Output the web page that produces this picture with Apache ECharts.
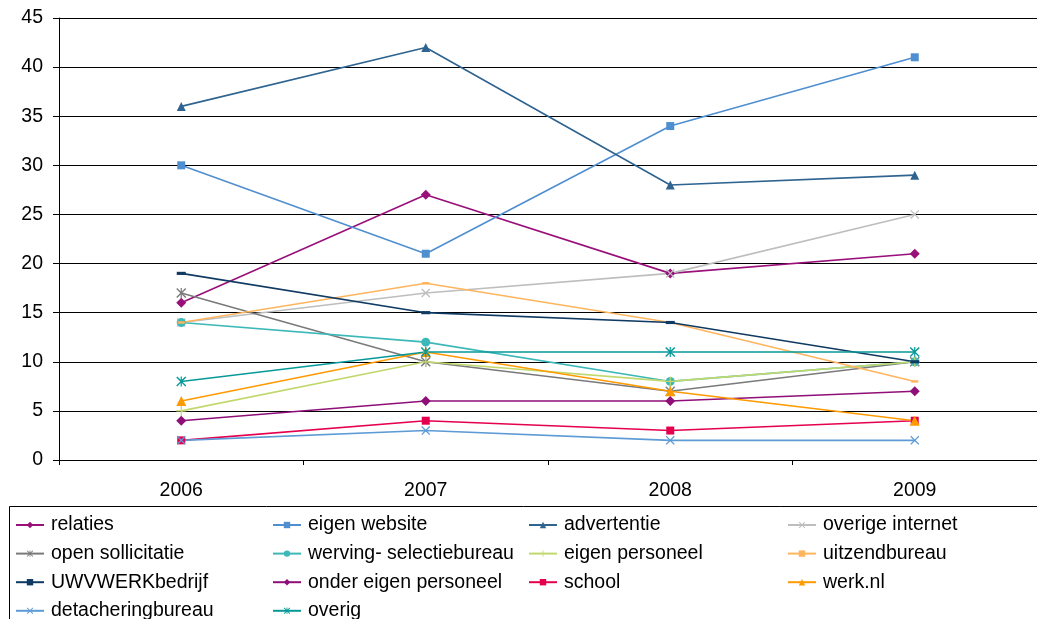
<!DOCTYPE html>
<html><head><meta charset="utf-8">
<script src="https://cdn.jsdelivr.net/npm/echarts@6/dist/echarts.min.js"></script>
<style>html,body{margin:0;padding:0;background:#fff}#c{width:1037px;height:619px}</style>
</head><body><div id="c"></div>
<script>
const years = ['2006','2007','2008','2009'];
const relaties = [16,27,19,21];
const eigenWebsite = [30,21,34,41];
const advertentie = [36,42,28,29];
const overigeInternet = [14,17,19,25];
const openSollicitatie = [17,10,7,10];
const werving = [14,12,8,10];
const eigenPersoneel = [5,10,8,10];
const uitzendbureau = [14,18,14,8];
const uwv = [19,15,14,10];
const onderEigenPersoneel = [4,6,6,7];
const school = [2,4,3,4];
const werkNl = [6,11,7,4];
const detachering = [2,3,2,2];
const overig = [8,11,11,11];

const X = 'path://M0,1L1,0L5,4L9,0L10,1L6,5L10,9L9,10L5,6L1,10L0,9L4,5Z';
const AST = 'path://M0,1L1,0L4.4,3.4V0H5.6V3.4L9,0L10,1L6,5L10,9L9,10L5.6,6.6V10H4.4V6.6L1,10L0,9L4,5Z';
const PLUS = 'path://M4.4,0H5.6V4.4H10V5.6H5.6V10H4.4V5.6H0V4.4H4.4Z';
const DASH = 'path://M0,0H10V3.5H0Z';

function s(name, data, color, symbol, size) {
  return {name, type:'line', data, symbol, symbolSize:size, showSymbol:true,
    symbolKeepAspect:true,
    lineStyle:{color, width:1.6}, itemStyle:{color}, emphasis:{disabled:true}, animation:false, z:2};
}
const series = [
  s('relaties', relaties, '#99107A', 'diamond', 10),
  s('eigen website', eigenWebsite, '#4F8FD0', 'rect', 8),
  s('advertentie', advertentie, '#2F6490', 'triangle', 9),
  s('overige internet', overigeInternet, '#BEBEBE', X, 9),
  s('open sollicitatie', openSollicitatie, '#7A7A7A', AST, 10),
  s('werving- selectiebureau', werving, '#3DB8B8', 'circle', 9),
  s('eigen personeel', eigenPersoneel, '#C2D86E', PLUS, 10),
  s('uitzendbureau', uitzendbureau, '#FFB55E', DASH, 7),
  s('UWVWERKbedrijf', uwv, '#0F3A62', DASH, 9),
  s('onder eigen personeel', onderEigenPersoneel, '#8E0F77', 'diamond', 10),
  s('school', school, '#E5004F', 'rect', 8),
  s('werk.nl', werkNl, '#FF9A00', 'triangle', 10),
  s('detacheringbureau', detachering, '#5C9BD6', X, 9),
  s('overig', overig, '#07999A', AST, 10)
];

const cols = [
  ['relaties','open sollicitatie','UWVWERKbedrijf','detacheringbureau'],
  ['eigen website','werving- selectiebureau','onder eigen personeel','overig'],
  ['advertentie','eigen personeel','school'],
  ['overige internet','uitzendbureau','werk.nl']
];
const colLeft = [15, 272, 528, 787];
const legends = cols.map((d,i)=>({
  data:d, orient:'vertical', left:colLeft[i], top:514, height:150, padding:0,
  itemWidth:28, itemHeight:8, itemGap:6.6,
  textStyle:{fontFamily:'Liberation Sans', fontSize:19.5, lineHeight:22, color:'#000', padding:[0,0,0,2]},
  selectedMode:false
}));

const chart = echarts.init(document.getElementById('c'));
chart.setOption({
  animation:false,
  backgroundColor:'#fff',
  grid:{left:59, top:18, right:-7, bottom:159, containLabel:false},
  xAxis:{type:'category', data:years, boundaryGap:true,
    axisLine:{lineStyle:{color:'#000', width:1}},
    axisTick:{show:true, length:5, lineStyle:{color:'#000'}},
    axisLabel:{fontFamily:'Liberation Sans', fontSize:19.5, color:'#000', margin:21}},
  yAxis:{type:'value', min:0, max:45, interval:5,
    axisLine:{show:true, lineStyle:{color:'#000'}},
    axisTick:{show:true, length:6, lineStyle:{color:'#000'}},
    splitLine:{show:true, lineStyle:{color:'#000', width:1}},
    axisLabel:{fontFamily:'Liberation Sans', fontSize:19.5, color:'#000', margin:16}},
  legend:legends,
  graphic:[{type:'rect', shape:{x:9.5, y:506.5, width:1040, height:200}, style:{fill:'none', stroke:'#000', lineWidth:1}, z:-1}],
  series
});
</script></body></html>
